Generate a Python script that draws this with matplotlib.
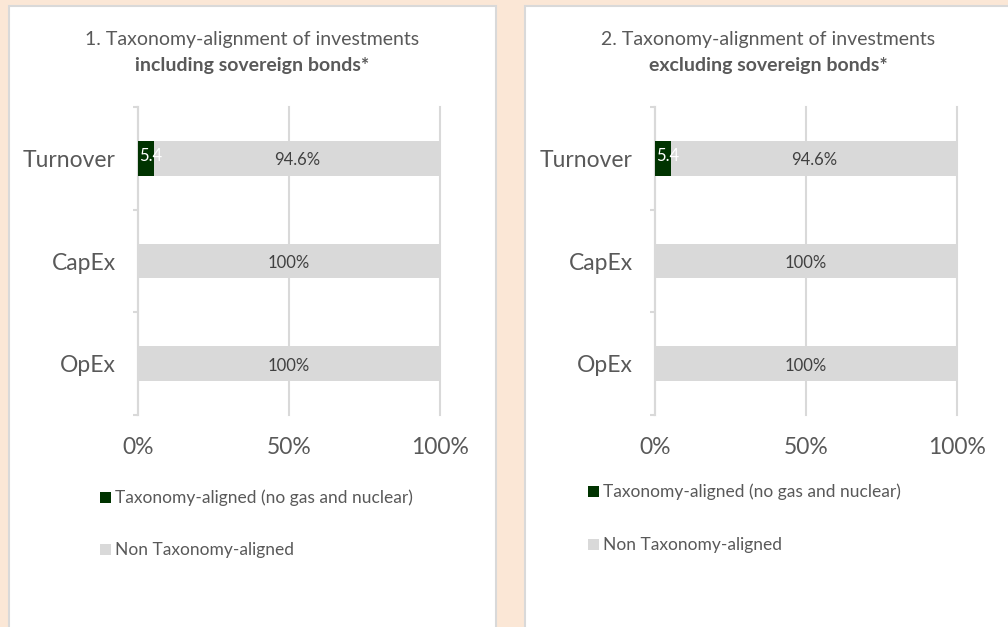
import matplotlib.pyplot as plt
from matplotlib.patches import Rectangle

plt.rcParams['font.family'] = ['Lato', 'DejaVu Sans']

categories = ["Turnover", "CapEx", "OpEx"]
aligned = [5.4, 0, 0]
non_aligned = [94.6, 100, 100]
aligned_labels = ["5.4", "", ""]
non_aligned_labels = ["94.6%", "100%", "100%"]
titles = [("1. Taxonomy-alignment of investments", "including sovereign bonds*"),
          ("2. Taxonomy-alignment of investments", "excluding sovereign bonds*")]
xticks = [0, 50, 100]
xtick_labels = ["0%", "50%", "100%"]
legend_labels = ["Taxonomy-aligned (no gas and nuclear)", "Non Taxonomy-aligned"]

GREEN = "#003300"
GREY = "#D9D9D9"
TEXT = "#595959"
BG = "#FBE7D6"

W, H = 1008, 627
fig = plt.figure(figsize=(W / 100, H / 100), dpi=100, facecolor=BG)

# white panels with grey border (pixel coords -> figure fraction)
panels = [(9, 6, 496, 640), (525, 6, 1020, 640)]
for x0, y0, x1, y1 in panels:
    fig.patches.append(Rectangle((x0 / W, 1 - y1 / H), (x1 - x0) / W, (y1 - y0) / H,
                                 transform=fig.transFigure, facecolor="white",
                                 edgecolor=GREY, linewidth=1.5, zorder=0))

axes_left = [138, 655]
leg_pos = [(100, 498, 550), (588, 492, 545)]
title_x = [252, 768]

for i in range(2):
    ax = fig.add_axes([axes_left[i] / W, 1 - 415 / H, 302 / W, 308 / H])
    ax.set_zorder(5)
    ax.set_facecolor("none")
    y = [2, 1, 0]
    ax.barh(y, aligned, height=0.34, color=GREEN, zorder=3)
    ax.barh(y, non_aligned, left=aligned, height=0.34, color=GREY, zorder=3)
    for yy, a, n, la, ln in zip(y, aligned, non_aligned, aligned_labels, non_aligned_labels):
        if la:
            ax.text(0.3, yy + 0.02, la, color="white", fontsize=12, va="center", ha="left", zorder=4)
        ax.text(a + n / 2, yy - 0.02, ln, color="#404040", fontsize=12, va="center", ha="center", zorder=4)

    ax.set_xlim(0, 100)
    ax.set_ylim(-0.5, 2.5)
    ax.set_xticks(xticks)
    ax.set_xticklabels(xtick_labels)
    ax.set_yticks(y)
    ax.set_yticklabels(categories)
    ax.set_yticks([-0.5, 0.5, 1.5, 2.5], minor=True)
    ax.tick_params(axis="x", length=0, pad=16, labelsize=16.5, labelcolor=TEXT)
    ax.tick_params(axis="y", which="major", length=0, pad=16, labelsize=16.5, labelcolor=TEXT)
    ax.tick_params(axis="y", which="minor", length=3.5, width=1.5, color=GREY)
    for s in ["top", "right", "bottom"]:
        ax.spines[s].set_visible(False)
    ax.spines["left"].set_color(GREY)
    ax.spines["left"].set_linewidth(1.5)
    ax.grid(axis="x", color=GREY, linewidth=1.5, zorder=0)
    for gl in ax.get_xgridlines():
        gl.set_clip_on(False)

    fig.text(title_x[i] / W, 1 - 40 / H, titles[i][0], ha="center", va="center",
             fontsize=14, color=TEXT)
    fig.text(title_x[i] / W, 1 - 65 / H, titles[i][1], ha="center", va="center",
             fontsize=14, color=TEXT, fontweight="bold")

    lx, ly1, ly2 = leg_pos[i]
    for ly, col, lab in [(ly1, GREEN, legend_labels[0]), (ly2, GREY, legend_labels[1])]:
        fig.patches.append(Rectangle((lx / W, 1 - (ly + 5) / H), 11 / W, 11 / H,
                                     transform=fig.transFigure, facecolor=col,
                                     edgecolor="none", zorder=2))
        fig.text((lx + 15) / W, 1 - ly / H, lab, ha="left", va="center",
                 fontsize=12.5, color=TEXT)

fig.savefig("out.png", dpi=100, facecolor=BG)
